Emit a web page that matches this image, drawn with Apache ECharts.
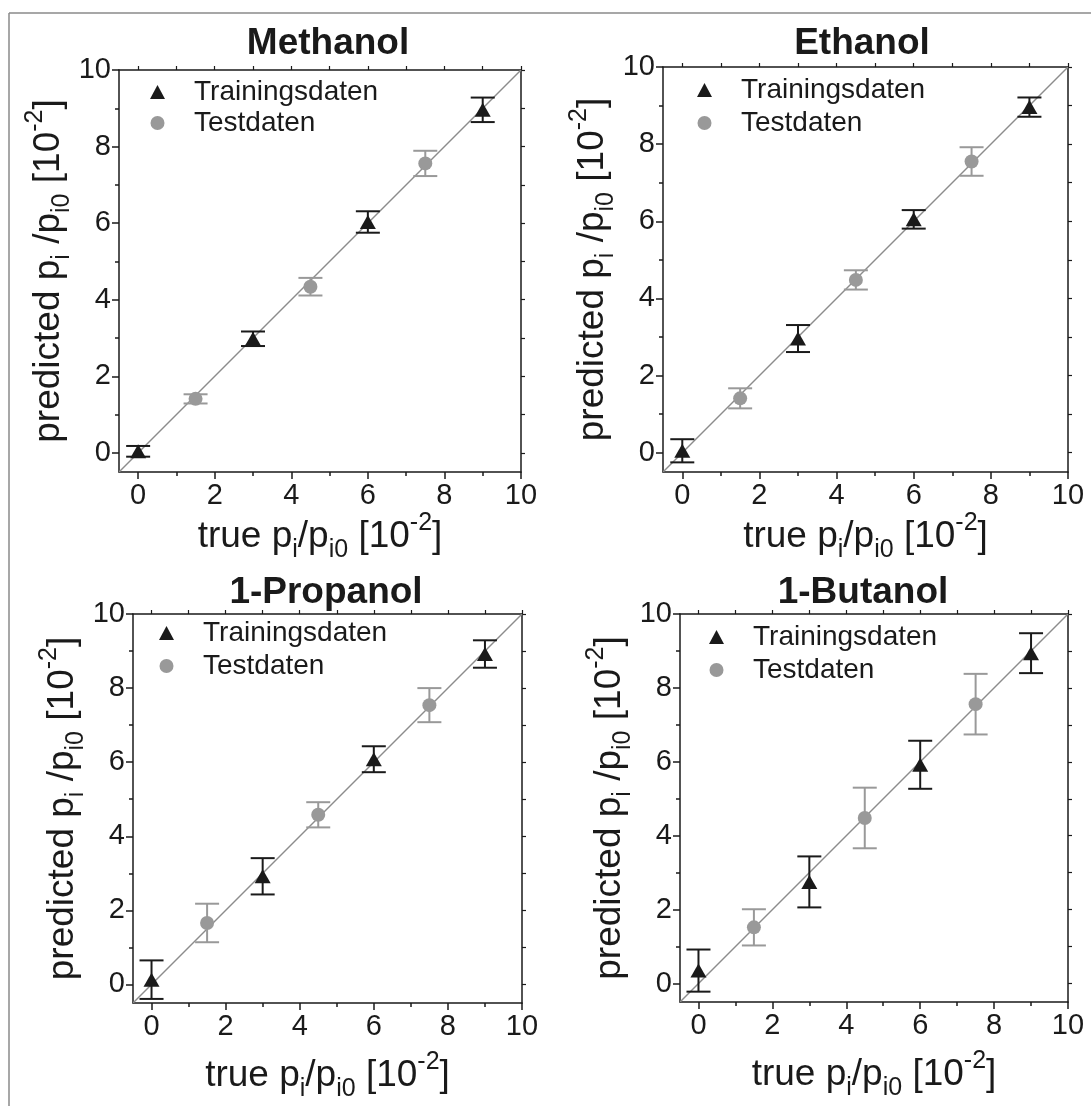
<!DOCTYPE html>
<html>
<head>
<meta charset="utf-8">
<title>predicted vs true</title>
<script src="https://cdn.jsdelivr.net/npm/echarts@6.0.0/dist/echarts.min.js"></script>
<style>
  html, body { margin: 0; padding: 0; background: #fff; }
  #chart { width: 1091px; height: 1106px; }
</style>
</head>
<body>
<div id="chart"></div>
<script>
// x positions shared by all panels
var trainX = [0, 3, 6, 9]
var testX = [1.5, 4.5, 7.5]
var tickValues = [0, 2, 4, 6, 8, 10]
var frameTicks = [0, 1, 2, 3, 4, 5, 6, 7, 8, 9, 10]
var axisRange = [-0.5, 10]

var panelNames = ['Methanol', 'Ethanol', '1-Propanol', '1-Butanol']
var legendNames = ['Trainingsdaten', 'Testdaten']

// predicted values and +/- error
var methanolTrain = [0.04, 2.98, 6.03, 8.96]
var methanolTrainErr = [0.14, 0.19, 0.28, 0.32]
var methanolTest = [1.41, 4.34, 7.56]
var methanolTestErr = [0.12, 0.23, 0.33]

var ethanolTrain = [0.05, 2.96, 6.05, 8.96]
var ethanolTrainErr = [0.30, 0.35, 0.24, 0.25]
var ethanolTest = [1.41, 4.48, 7.55]
var ethanolTestErr = [0.26, 0.25, 0.37]

var propanolTrain = [0.13, 2.92, 6.08, 8.92]
var propanolTrainErr = [0.52, 0.49, 0.35, 0.37]
var propanolTest = [1.66, 4.58, 7.54]
var propanolTestErr = [0.52, 0.34, 0.46]

var butanolTrain = [0.35, 2.75, 5.92, 8.94]
var butanolTrainErr = [0.57, 0.69, 0.65, 0.54]
var butanolTest = [1.52, 4.48, 7.56]
var butanolTestErr = [0.49, 0.82, 0.82]

var panelData = [
  [methanolTrain, methanolTrainErr, methanolTest, methanolTestErr],
  [ethanolTrain, ethanolTrainErr, ethanolTest, ethanolTestErr],
  [propanolTrain, propanolTrainErr, propanolTest, propanolTestErr],
  [butanolTrain, butanolTrainErr, butanolTest, butanolTestErr]
]

// page layout (pixels)
var layouts = [
  { left: 119, top: 70, size: 402, titleX: 328, titleY: 25, legendLeft: 150, legendTop: 78, gapY: 30, gapX: 33, legendGap: 3 },
  { left: 663, top: 67, size: 405, titleX: 862, titleY: 25, legendLeft: 697, legendTop: 76, gapY: 23, gapX: 33, legendGap: 5 },
  { left: 133, top: 614, size: 389, titleX: 326, titleY: 574, legendLeft: 159, legendTop: 619, gapY: 44, gapX: 47, legendGap: 5 },
  { left: 680, top: 614, size: 388, titleX: 863, titleY: 574, legendLeft: 709, legendTop: 623, gapY: 42, gapX: 47, legendGap: 5 }
]

var FONT = '"Liberation Sans", Arial, sans-serif'
var DARK = '#1a1a1a'
var GREY = '#999999'

var nameRich = {
  n: { fontFamily: FONT, fontSize: 37, lineHeight: 52, color: DARK },
  s: { fontFamily: FONT, fontSize: 25, lineHeight: 20, verticalAlign: 'bottom', color: DARK },
  u: { fontFamily: FONT, fontSize: 25, lineHeight: 42, verticalAlign: 'top', color: DARK }
}
var xName = '{n|true p}{s|i}{n|/p}{s|i0}{n| [10}{u|-2}{n|]}'
var yName = '{n|predicted p}{s|i}{n| /p}{s|i0}{n| [10}{u|-2}{n|]}'

function pairs(xs, ys) {
  return xs.map(function (x, i) { return [x, ys[i]] })
}
function triples(xs, ys, es) {
  return xs.map(function (x, i) { return [x, ys[i], es[i]] })
}

function renderErrorBar(params, api) {
  var x = api.value(0)
  var y = api.value(1)
  var e = api.value(2)
  var hi = api.coord([x, y + e])
  var lo = api.coord([x, y - e])
  var half = 12
  var style = { stroke: api.visual('color'), lineWidth: 2 }
  return {
    type: 'group',
    children: [
      { type: 'line', shape: { x1: hi[0], y1: hi[1], x2: lo[0], y2: lo[1] }, style: style },
      { type: 'line', shape: { x1: hi[0] - half, y1: hi[1], x2: hi[0] + half, y2: hi[1] }, style: style },
      { type: 'line', shape: { x1: lo[0] - half, y1: lo[1], x2: lo[0] + half, y2: lo[1] }, style: style }
    ]
  }
}

var grids = [], xAxes = [], yAxes = [], series = [], titles = [], legends = []

layouts.forEach(function (l, i) {
  grids.push({ left: l.left, top: l.top, width: l.size, height: l.size, outerBoundsMode: 'none' })
  titles.push({
    text: panelNames[i], left: l.titleX, top: l.titleY, textAlign: 'center', padding: 0,
    textStyle: { fontFamily: FONT, fontSize: 37, fontWeight: 'bold', color: DARK }
  })
  legends.push({
    orient: 'vertical', left: l.legendLeft, top: l.legendTop, padding: 0,
    itemWidth: 15, itemHeight: 14, itemGap: l.legendGap, selectedMode: false,
    textStyle: { fontFamily: FONT, fontSize: 28, color: DARK, padding: [0, 0, 0, 24] },
    data: [{ name: legendNames[0], icon: 'triangle' }, { name: legendNames[1], icon: 'circle' }]
  })

  // bottom + left axes carry labels, top + right close the frame
  xAxes.push({
    type: 'value', gridIndex: i, min: axisRange[0], max: axisRange[1], position: 'bottom',
    axisLine: { onZero: false, lineStyle: { color: DARK, width: 1.5 } },
    axisTick: { customValues: tickValues, length: 7, lineStyle: { color: DARK, width: 1.5 } },
    minorTick: { show: true, splitNumber: 2, length: 4, lineStyle: { color: DARK, width: 1.5 } },
    axisLabel: { customValues: tickValues, margin: 9, fontFamily: FONT, fontSize: 29, color: DARK },
    splitLine: { show: false },
    name: xName, nameLocation: 'middle', nameGap: l.gapX, nameTextStyle: { rich: nameRich }
  })
  xAxes.push({
    type: 'value', gridIndex: i, min: axisRange[0], max: axisRange[1], position: 'top',
    axisLine: { onZero: false, lineStyle: { color: DARK, width: 1.5 } },
    axisTick: { customValues: frameTicks, length: 4, lineStyle: { color: DARK, width: 1.2 } },
    axisLabel: { show: false }, splitLine: { show: false }
  })
  yAxes.push({
    type: 'value', gridIndex: i, min: axisRange[0], max: axisRange[1], position: 'left',
    axisLine: { onZero: false, lineStyle: { color: DARK, width: 1.5 } },
    axisTick: { customValues: tickValues, length: 7, lineStyle: { color: DARK, width: 1.5 } },
    minorTick: { show: true, splitNumber: 2, length: 4, lineStyle: { color: DARK, width: 1.5 } },
    axisLabel: { customValues: tickValues, margin: 8, fontFamily: FONT, fontSize: 29, color: DARK },
    splitLine: { show: false },
    name: yName, nameLocation: 'middle', nameRotate: 90, nameGap: l.gapY, nameTextStyle: { rich: nameRich }
  })
  yAxes.push({
    type: 'value', gridIndex: i, min: axisRange[0], max: axisRange[1], position: 'right',
    axisLine: { onZero: false, lineStyle: { color: DARK, width: 1.5 } },
    axisTick: { customValues: frameTicks, length: 4, lineStyle: { color: DARK, width: 1.2 } },
    axisLabel: { show: false }, splitLine: { show: false }
  })

  var d = panelData[i]
  var xi = i * 2, yi = i * 2

  // y = x reference line
  series.push({
    type: 'line', xAxisIndex: xi, yAxisIndex: yi, silent: true, symbol: 'none', z: 1,
    data: [[axisRange[0], axisRange[0]], [axisRange[1], axisRange[1]]],
    lineStyle: { color: '#8c8c8c', width: 1.4 }
  })
  series.push({
    type: 'custom', name: 'err-train-' + i, xAxisIndex: xi, yAxisIndex: yi, z: 2, silent: true,
    renderItem: renderErrorBar, itemStyle: { color: DARK },
    encode: { x: 0, y: 1 }, data: triples(trainX, d[0], d[1])
  })
  series.push({
    type: 'custom', name: 'err-test-' + i, xAxisIndex: xi, yAxisIndex: yi, z: 2, silent: true,
    renderItem: renderErrorBar, itemStyle: { color: GREY },
    encode: { x: 0, y: 1 }, data: triples(testX, d[2], d[3])
  })
  series.push({
    type: 'scatter', name: legendNames[0], xAxisIndex: xi, yAxisIndex: yi, z: 3,
    symbol: 'triangle', symbolSize: [16, 14], itemStyle: { color: DARK, opacity: 1 },
    data: pairs(trainX, d[0])
  })
  series.push({
    type: 'scatter', name: legendNames[1], xAxisIndex: xi, yAxisIndex: yi, z: 3,
    symbol: 'circle', symbolSize: 14, itemStyle: { color: GREY, opacity: 1 },
    data: pairs(testX, d[2])
  })
})

var chart = echarts.init(document.getElementById('chart'))
chart.setOption({
  animation: false,
  backgroundColor: '#fff',
  title: titles,
  legend: legends,
  grid: grids,
  xAxis: xAxes,
  yAxis: yAxes,
  series: series,
  graphic: [
    // thin frame around the figure (top and left edges only visible)
    { type: 'line', shape: { x1: 9, y1: 13, x2: 1091, y2: 13 }, style: { stroke: '#8a8a8a', lineWidth: 1.5 } },
    { type: 'line', shape: { x1: 9, y1: 13, x2: 9, y2: 1106 }, style: { stroke: '#8a8a8a', lineWidth: 1.5 } }
  ]
})
</script>
</body>
</html>
